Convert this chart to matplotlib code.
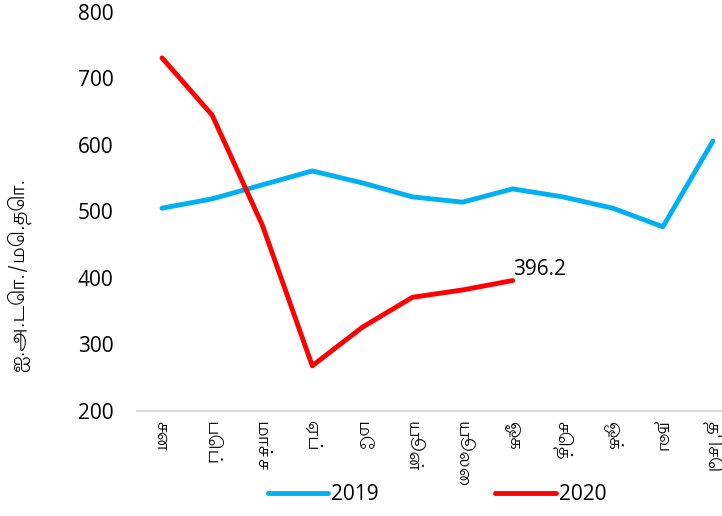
import matplotlib
matplotlib.use("Agg")
import matplotlib.pyplot as plt

months = ["சன", "பெப்", "மாச்ச", "ஏப்", "மே", "யூன்", "யூலை", "ஓக", "செத்", "ஒக்", "நவ", "திசெ"]
y2019 = [505, 519, 540, 561, 543, 522, 514, 534, 522, 505, 477, 606]
y2020 = [731, 645, 480, 268, 326, 371, 382, 396.2]
ylabel = "ஐ.அ.டொ./மெ.தொ."

plt.rcParams["font.family"] = ["Open Sans", "Lohit Tamil", "DejaVu Sans"]
tamil = ["Lohit Tamil", "DejaVu Sans"]

fig = plt.figure(figsize=(7.22, 5.16), dpi=100)
ax = fig.add_axes([137 / 722, 1 - 411 / 516, 601 / 722, (411 - 12) / 516])

x = list(range(len(months)))
ax.plot(x, y2019, color="#00b0f0", lw=3.5, label="2019", solid_capstyle="round")
ax.plot(x[:len(y2020)], y2020, color="#ff0000", lw=3.5, label="2020", solid_capstyle="round")
ax.annotate(f"{y2020[-1]:.1f}", (x[len(y2020) - 1], y2020[-1]), xytext=(0, 4),
            textcoords="offset points", fontsize=15)

ax.set_xlim(-0.5, 11.5)
ax.set_ylim(200, 800)
ax.set_yticks([200, 300, 400, 500, 600, 700, 800])
ax.set_xticks(x)
ax.set_xticklabels(months, rotation=270, fontsize=14, family=tamil)
ax.tick_params(axis="y", labelsize=15, length=0, pad=17)
ax.tick_params(axis="x", length=0, pad=7)
for s in ["top", "right", "left"]:
    ax.spines[s].set_visible(False)
ax.spines["bottom"].set_color("#d9d9d9")
ax.spines["bottom"].set_linewidth(1.5)
ax.set_ylabel(ylabel, fontsize=15, family=tamil)
ax.yaxis.set_label_coords((31 - 137) / 601, (411 - 275) / 399)

fig.legend(loc="center", bbox_to_anchor=(437 / 722, 1 - 495 / 516), ncol=2, frameon=False,
           fontsize=15, handlelength=2.9, columnspacing=5.6, handletextpad=0.15)

fig.savefig("out.png", dpi=100)
